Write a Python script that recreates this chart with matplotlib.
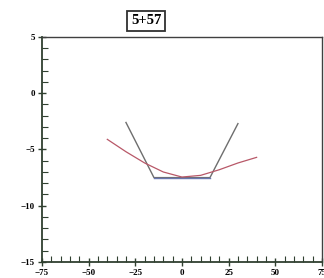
import matplotlib
matplotlib.use("Agg")
import matplotlib.pyplot as plt
from matplotlib.ticker import MultipleLocator

title = "5+57"
gray_x = [-30, -15, 15, 30]
gray_y = [-2.6, -7.5, -7.5, -2.7]
blue_x = [-15, 15]
blue_y = [-7.55, -7.55]
red_x = [-40, -30, -20, -10, 0, 10, 20, 30, 40]
red_y = [-4.1, -5.2, -6.2, -7.0, -7.45, -7.3, -6.8, -6.2, -5.7]
xticks = [-75, -50, -25, 0, 25, 50, 75]
yticks = [5, 0, -5, -10, -15]

fig = plt.figure(figsize=(3.24, 2.78), dpi=100)
ax = fig.add_axes([0.1296, 0.0576, 0.864, 0.8094])
ax.plot(gray_x, gray_y, color="#6e6e6e", lw=1.0)
ax.plot(blue_x, blue_y, color="#6a78b0", lw=1.0)
ax.plot(red_x, red_y, color="#b85868", lw=0.9)
ax.set_xlim(-75, 75)
ax.set_ylim(-15, 5)
ax.set_xticks(xticks)
ax.set_yticks(yticks)
ax.xaxis.set_minor_locator(MultipleLocator(5))
ax.yaxis.set_minor_locator(MultipleLocator(1))
for lab in ax.get_xticklabels() + ax.get_yticklabels():
    lab.set_fontfamily("Liberation Serif")
    lab.set_fontweight("bold")
    lab.set_fontsize(6.5)
ax.tick_params(which="major", direction="inout", length=6, width=1, color="#304030", pad=2)
ax.tick_params(which="minor", direction="in", length=4, width=0.8, color="#304030")
ax.tick_params(top=False, right=False)
for s in ["left", "bottom"]:
    ax.spines[s].set_linewidth(1.3)
    ax.spines[s].set_color("#304030")
for s in ["top", "right"]:
    ax.spines[s].set_linewidth(1.0)
    ax.spines[s].set_color("#404040")
fig.text(146 / 324, 1 - 21 / 278, title, ha="center", va="center",
         fontfamily="Liberation Serif", fontweight="bold", fontsize=10.5,
         bbox=dict(boxstyle="square,pad=0.25", fc="white", ec="#303030", lw=1.3))
fig.savefig("out.png", dpi=100)
